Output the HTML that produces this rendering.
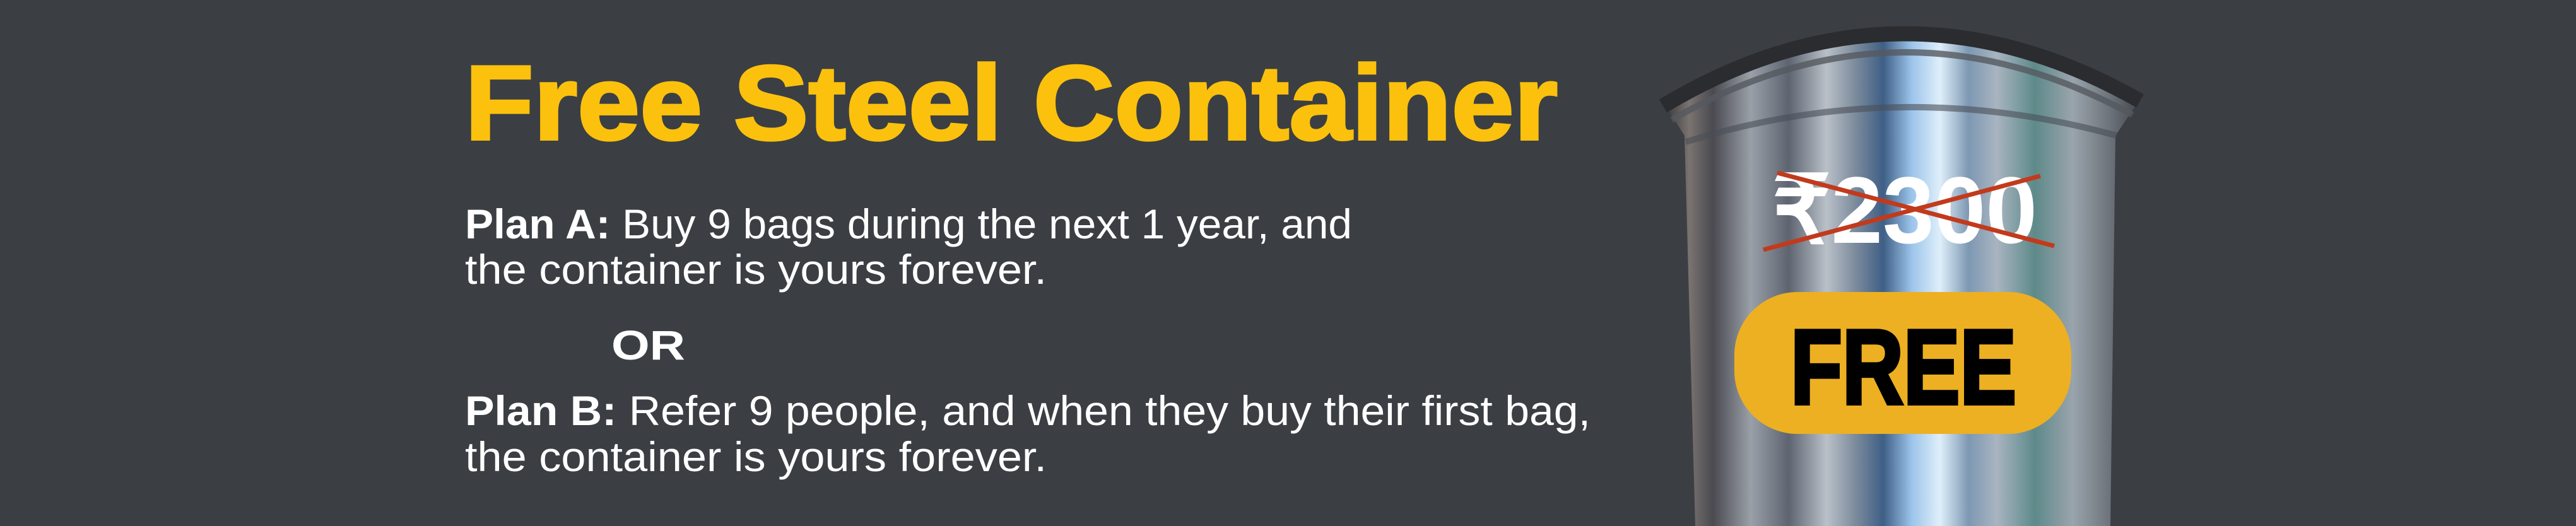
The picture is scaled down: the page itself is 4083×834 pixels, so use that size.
<!DOCTYPE html>
<html><head><meta charset="utf-8"><style>
html,body{margin:0;padding:0;background:#3b3f43;}
svg{display:block}
</style></head><body>
<svg width="4083" height="834" viewBox="0 0 4083 834" xmlns="http://www.w3.org/2000/svg">
<defs>
<linearGradient id="steel" x1="0" x2="1" y1="0" y2="0">
<stop offset="0" stop-color="#3a3a3c"/>
<stop offset="0.05" stop-color="#7a7370"/>
<stop offset="0.1" stop-color="#4a4a50"/>
<stop offset="0.18" stop-color="#9aa0a8"/>
<stop offset="0.26" stop-color="#5d6470"/>
<stop offset="0.34" stop-color="#b9c0c8"/>
<stop offset="0.4" stop-color="#7d8c9c"/>
<stop offset="0.46" stop-color="#3f5f86"/>
<stop offset="0.52" stop-color="#9cc4ea"/>
<stop offset="0.58" stop-color="#dfeffa"/>
<stop offset="0.64" stop-color="#7d98b3"/>
<stop offset="0.7" stop-color="#a8b4c0"/>
<stop offset="0.78" stop-color="#5e8a8a"/>
<stop offset="0.86" stop-color="#9aa4ac"/>
<stop offset="0.94" stop-color="#6c727a"/>
<stop offset="1" stop-color="#44484e"/>
</linearGradient>
</defs>
<rect width="4083" height="834" fill="#3b3f43"/>
<!-- container body -->
<path d="M2640 168 Q3010 -57 3390 160 L3353 215 L3345 834 L2687 834 L2670 215 Z" fill="url(#steel)"/>
<!-- rim -->
<path d="M2636 168 Q3010 -57 3392 160" fill="none" stroke="#2a2c30" stroke-width="24"/>
<path d="M2650 190 Q3010 -20 3380 182" fill="none" stroke="#55595f" stroke-width="10" opacity="0.8"/>
<path d="M2672 225 Q3010 120 3355 215" fill="none" stroke="#4a4e56" stroke-width="10" opacity="0.6"/>
<!-- price -->
<text x="2809" y="385" font-family="Liberation Sans, sans-serif" font-weight="bold" font-size="150" fill="#ffffff" textLength="420" lengthAdjust="spacingAndGlyphs">₹2300</text>
<line x1="2817" y1="274" x2="3256" y2="390" stroke="#c23a1c" stroke-width="7"/>
<line x1="2795" y1="396" x2="3234" y2="279" stroke="#c23a1c" stroke-width="7"/>
<!-- FREE pill -->
<rect x="2749" y="463" width="534" height="225" rx="100" fill="#edb022"/>
<text x="2838" y="640" font-family="Liberation Sans, sans-serif" font-weight="bold" font-size="168" fill="#000" stroke="#000" stroke-width="6" textLength="358" lengthAdjust="spacingAndGlyphs">FREE</text>
<!-- left text -->
<text x="737" y="221" font-family="Liberation Sans, sans-serif" font-weight="bold" font-size="168" fill="#fcc10d" stroke="#fcc10d" stroke-width="4" textLength="1732" lengthAdjust="spacingAndGlyphs">Free Steel Container</text>
<g font-family="Liberation Sans, sans-serif" font-size="66" fill="#ffffff">
<text x="737" y="378" textLength="1406" lengthAdjust="spacingAndGlyphs"><tspan font-weight="bold">Plan A:</tspan> Buy 9 bags during the next 1 year, and</text>
<text x="737" y="450" textLength="922" lengthAdjust="spacingAndGlyphs">the container is yours forever.</text>
<text x="969" y="570" font-weight="bold" font-size="66" textLength="117" lengthAdjust="spacingAndGlyphs">OR</text>
<text x="737" y="674" textLength="1784" lengthAdjust="spacingAndGlyphs"><tspan font-weight="bold">Plan B:</tspan> Refer 9 people, and when they buy their first bag,</text>
<text x="737" y="747" textLength="922" lengthAdjust="spacingAndGlyphs">the container is yours forever.</text>
</g>
</svg>
</body></html>
